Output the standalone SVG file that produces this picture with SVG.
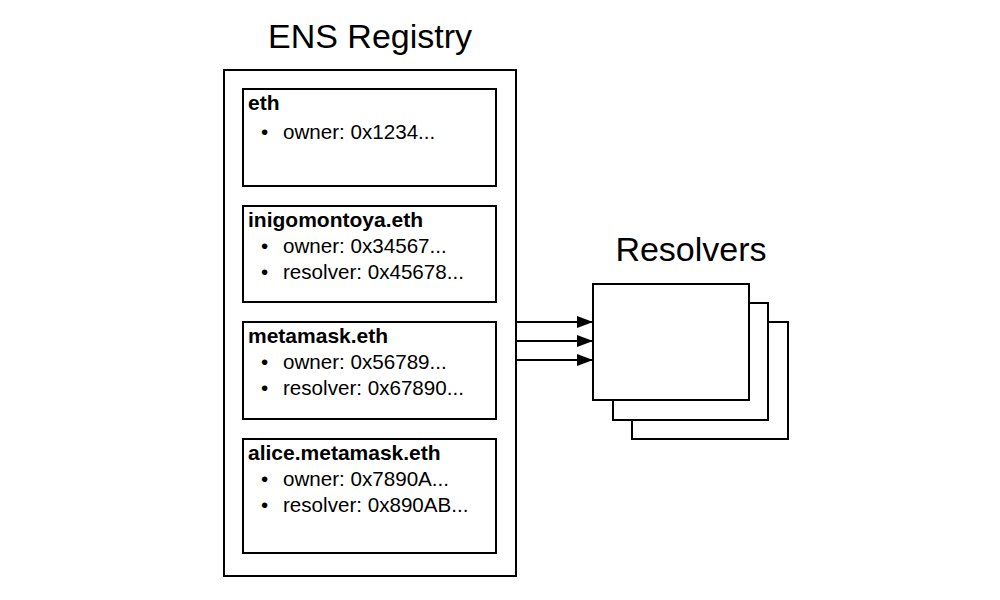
<svg xmlns="http://www.w3.org/2000/svg" width="1000" height="600" viewBox="0 0 1000 600">
<style>
rect{fill:#fff;stroke:#000;stroke-width:2}
text{font-family:"Liberation Sans",Arial,sans-serif;fill:#000}
.t{font-size:34px}
.h{font-size:21px;font-weight:bold}
.i{font-size:20.6px}
.c{stroke:#000;stroke-width:2;fill:none}
</style>
<defs><marker id="b" viewBox="0 0 16 12" refX="16" refY="6" markerWidth="16" markerHeight="12" markerUnits="userSpaceOnUse" orient="auto"><path d="M0,0 L16,6 L0,12z" fill="#000"/></marker></defs>
<g id="registry">
<text class="t" x="370" y="48" text-anchor="middle">ENS Registry</text>
<rect x="224" y="70" width="292" height="506"/>
</g>
<g id="eth"><rect x="243" y="89" width="253" height="97"/>
<text class="h" x="248" y="110">eth</text>
<text class="i" x="261" y="139">•</text><text class="i" x="283" y="139">owner: 0x1234...</text></g>
<g id="inigomontoya"><rect x="243" y="206" width="253" height="96"/>
<text class="h" x="248" y="227">inigomontoya.eth</text>
<text class="i" x="261" y="253">•</text><text class="i" x="283" y="253">owner: 0x34567...</text>
<text class="i" x="261" y="279">•</text><text class="i" x="283" y="279">resolver: 0x45678...</text></g>
<g id="metamask"><rect x="243" y="322" width="253" height="97"/>
<text class="h" x="248" y="343">metamask.eth</text>
<text class="i" x="261" y="369">•</text><text class="i" x="283" y="369">owner: 0x56789...</text>
<text class="i" x="261" y="395">•</text><text class="i" x="283" y="395">resolver: 0x67890...</text></g>
<g id="alice"><rect x="243" y="439" width="253" height="114"/>
<text class="h" x="248" y="460">alice.metamask.eth</text>
<text class="i" x="261" y="486">•</text><text class="i" x="283" y="486">owner: 0x7890A...</text>
<text class="i" x="261" y="512">•</text><text class="i" x="283" y="512">resolver: 0x890AB...</text></g>
<g id="resolvers">
<text class="t" x="691" y="261" text-anchor="middle">Resolvers</text>
<rect x="632" y="322" width="156" height="117"/>
<rect x="613" y="303" width="155" height="117"/>
<rect x="593" y="284" width="156" height="116"/>
</g>
<g id="connectors">
<path class="c" d="M516,322 H593" marker-end="url(#b)"/>
<path class="c" d="M516,341 H593" marker-end="url(#b)"/>
<path class="c" d="M516,360 H593" marker-end="url(#b)"/>
</g>
</svg>
